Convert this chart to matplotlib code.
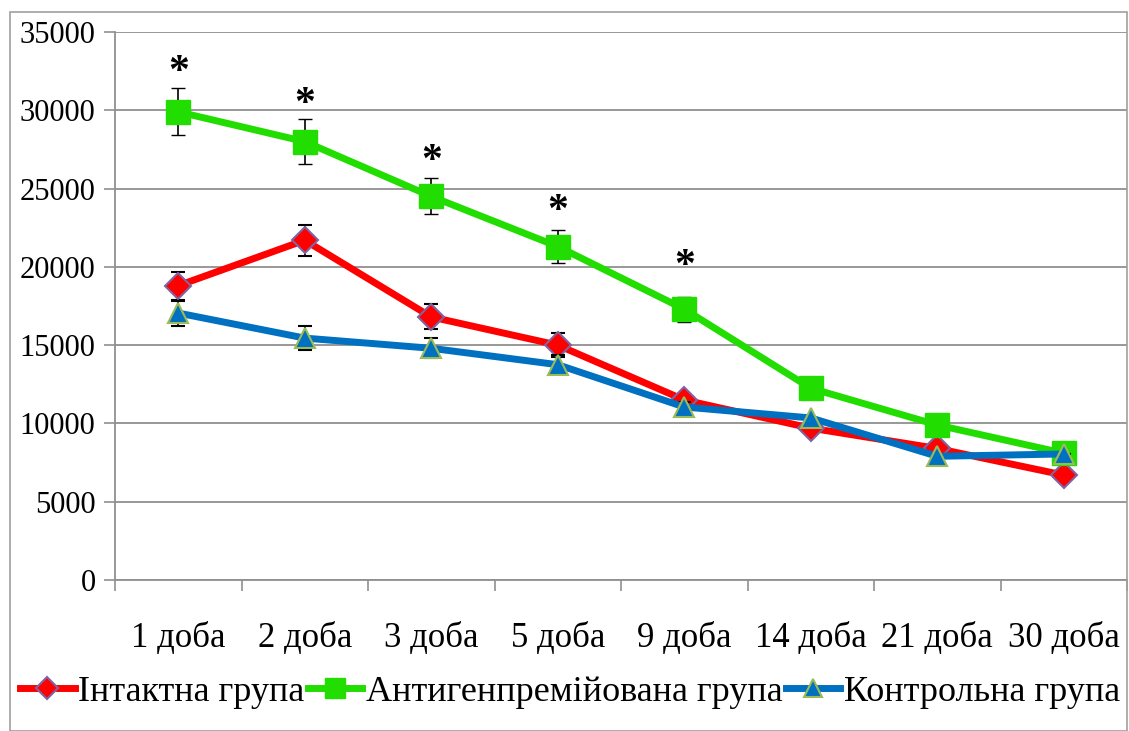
import matplotlib.pyplot as plt
from matplotlib.patches import Rectangle
from matplotlib.lines import Line2D

days = ['1 доба', '2 доба', '3 доба', '5 доба', '9 доба', '14 доба', '21 доба', '30 доба']

intact = [18800, 21700, 16800, 15000, 11500, 9700, 8400, 6700]
intact_err = [900, 1000, 800, 750, 400, 0, 0, 0]

antigen = [29900, 28000, 24500, 21300, 17300, 12250, 9900, 8100]
antigen_err = [1500, 1450, 1150, 1050, 800, 0, 0, 0]

control = [17050, 15450, 14800, 13750, 11050, 10350, 7900, 8050]
control_err = [800, 750, 650, 600, 300, 0, 0, 0]

# significance marks (day index, height of the asterisk)
star_days = [0, 1, 2, 3, 4]
star_heights = [32700, 30650, 27000, 23800, 20300]

labels = ['Інтактна група', 'Антигенпремійована група', 'Контрольна група']


def main():
    plt.rcParams['font.family'] = ['Liberation Serif', 'DejaVu Serif']
    fig = plt.figure(figsize=(11.29, 7.31), dpi=100)
    ax = fig.add_axes([115 / 1129, 1 - 580 / 731, 1012 / 1129, 548 / 731])

    fig.patches.append(Rectangle((10 / 1129, 0), 1117 / 1129, 1 - 12 / 731,
                                 transform=fig.transFigure, fill=False,
                                 edgecolor='#a0a0a0', linewidth=1.2))

    styles = [
        dict(color='#ff0000', marker='D', ms=13, mfc='#ff0000', mec='#8064a2', mew=1.5),
        dict(color='#22dd00', marker='s', ms=17, mfc='#22dd00', mec='#22dd00', mew=1),
        dict(color='#0070c0', marker='^', ms=15, mfc='#0070c0', mec='#9bbb59', mew=1.5),
    ]
    series = [(intact, intact_err), (antigen, antigen_err), (control, control_err)]

    x = list(range(len(days)))
    for k, (vals, errs) in enumerate(series):
        ax.errorbar(x, vals, yerr=errs, lw=5, ecolor='black', elinewidth=1.2,
                    capsize=5, capthick=1.2, zorder=3 + k, **styles[k])

    for d, h in zip(star_days, star_heights):
        ax.text(d, h, '*', ha='center', va='center_baseline', fontsize=30,
                fontweight='bold', color='black')

    ax.set_xlim(-0.5, len(days) - 0.5)
    ax.set_ylim(0, 35000)
    ax.set_yticks(range(0, 35001, 5000))
    ax.set_xticks(x)
    ax.set_xticklabels(days)
    ax.set_xticks([i + 0.5 for i in range(-1, len(days))], minor=True)
    ax.tick_params(axis='x', which='major', length=0, pad=30, labelsize=25)
    ax.tick_params(axis='x', which='minor', length=8, color='#909090', width=1.2)
    ax.tick_params(axis='y', length=8, color='#909090', width=1.2, labelsize=22, pad=6)
    ax.grid(axis='y', color='#909090', lw=1.3)
    ax.set_axisbelow(True)
    for side in ['top', 'right']:
        ax.spines[side].set_visible(False)
    for side in ['left', 'bottom']:
        ax.spines[side].set_color('#909090')
        ax.spines[side].set_linewidth(1.3)

    handles = [Line2D([], [], lw=5, **st) for st in styles]
    fig.legend(handles, labels, loc='center', bbox_to_anchor=(0.505, 1 - 692 / 731),
               ncol=3, frameon=False, fontsize=26, handlelength=1.5,
               handletextpad=0.1, columnspacing=0.1, markerscale=0.85)

    fig.savefig('out.png', dpi=100)


if __name__ == "__main__":
    main()
